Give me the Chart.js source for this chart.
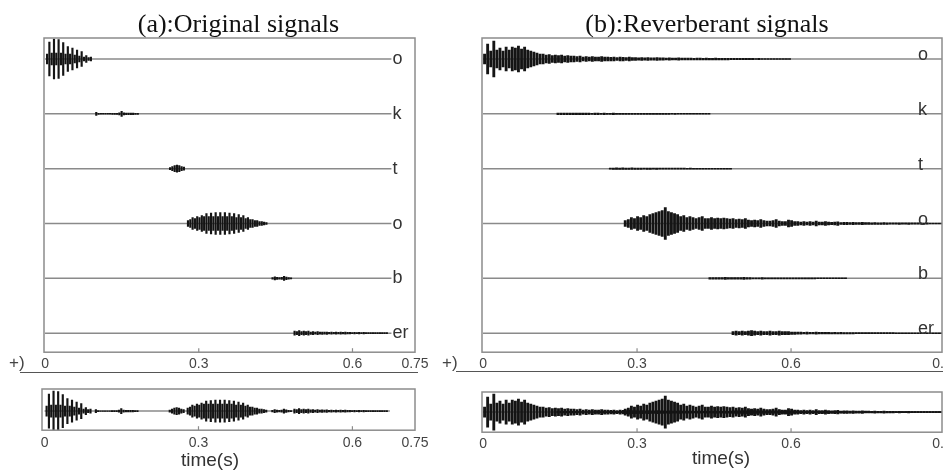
<!DOCTYPE html>
<html><head><meta charset="utf-8">
<script src="https://cdn.jsdelivr.net/npm/chart.js@4.4.1/dist/chart.umd.min.js"></script>
<style>
html,body{margin:0;padding:0;width:943px;height:470px;overflow:hidden;background:#fff;}
canvas{position:absolute;}
.txt{position:absolute;white-space:nowrap;}
.rule{position:absolute;height:0;border-top:1.5px solid #555;}
</style></head><body>
<canvas id="cA" width="480" height="376" style="left:0;top:0"></canvas>
<canvas id="cB" width="530" height="376" style="left:470px;top:0"></canvas>
<canvas id="cC" width="480" height="76" style="left:0;top:380px"></canvas>
<canvas id="cD" width="530" height="73" style="left:470px;top:383px"></canvas>
<div class="txt" style="left:0;width:477px;top:9px;text-align:center;font:26px/30px 'Liberation Serif','Times New Roman',serif;color:#111">(a):Original signals</div>
<div class="txt" style="left:470px;width:474px;top:9px;text-align:center;font:26px/30px 'Liberation Serif','Times New Roman',serif;color:#111">(b):Reverberant signals</div>
<div class="txt" style="left:150px;width:120px;top:449px;text-align:center;font:19px/22px 'Liberation Sans',Arial,sans-serif;color:#333">time(s)</div>
<div class="txt" style="left:661px;width:120px;top:447px;text-align:center;font:19px/22px 'Liberation Sans',Arial,sans-serif;color:#333">time(s)</div>
<div class="txt" style="left:9px;top:353px;font:17px/19px 'Liberation Sans',Arial,sans-serif;color:#444">+)</div>
<div class="txt" style="left:442px;top:353px;font:17px/19px 'Liberation Sans',Arial,sans-serif;color:#444">+)</div>
<div class="rule" style="left:20px;top:372px;width:398px"></div>
<div class="rule" style="left:456px;top:371px;width:487px"></div>
<script>
// ---------- data ----------
const rowLabels = ['o','k','t','o','b','er'];

// (a) original signals: envelope amplitudes sampled every origDt seconds
const origDt = 0.0045;
const origStart = [0.004, 0.1, 0.244, 0.279, 0.444, 0.487];
const origO1 = [5,17,6,20,6,19.5,6,16.5,5,12.5,5,11,4,9,3,7.5,2,3.5,1.5,2];
const origK  = [1.5,0.5,0.4,0.4,0.4,0.4,0.4,0.5,0.5,0.6,1,2.5,1,0.8,0.8,0.8,0.7,0.6,0.5];
const origT  = [1,2,3,3.5,3,2,1.5];
const origO2 = [3,4,6,5,7,6,8,7,10,7,10.5,7,11,7,11,7,11,7,10.5,7,10,6,9,6,8,5,6,4,4,3,3,2,2,1.5,1];
const origB  = [0.8,1.5,1,0.8,1,2,1.2,0.8,0.5];
const origEr = [2,1.5,2.5,1.5,2,1.5,2,1.2,1.5,1,1.5,1,1.2,1,1.2,0.8,1,0.8,1,0.8,1,0.8,1,0.8,0.8,0.6,0.8,0.6,0.8,0.6,0.8,0.6,0.6,0.5,0.6,0.5,0.6,0.5,0.5,0.5,0.5];
const origTraces = [origO1, origK, origT, origO2, origB, origEr];
const origEnd = 0.676;

// (b) reverberant signals
const revDt = 0.006;
const revStart = [0.003, 0.146, 0.248, 0.277, 0.442, 0.487];
const revO1 = [5,15,8,18,9,11,8,12,9,12,11,13,10,12,9,8,7,6,5,5,
  4,4.5,3.5,4,3.5,4,3,3.5,3,3,2.5,3,2,2.5,2,2.5,2,2,2.5,2,
  2,1.8,2,1.5,2,1.8,1.5,2,1.5,1.5,1.2,1.5,1.2,1.5,1.2,1.2,1.5,1.2,1.2,1,
  1.2,1,1,1.2,1,1,1,1,0.8,1,1,0.8,1,0.8,0.8,1,0.8,0.8,0.8,0.8,
  0.7,0.6,0.7,0.6,0.6,0.7,0.6,0.6,0.5,0.6,0.5,0.5,0.5,0.5,0.5,0.4,0.4,0.4,0.4,0.4];
const revK = [0.7,0.8,0.7,0.7,0.8,0.7,0.7,0.7,0.8,0.7,0.7,0.6,0.7,0.7,0.6,0.7,0.6,0.6,0.7,0.6,
  0.6,0.6,0.6,0.5,0.6,0.5,0.5,0.6,0.5,0.5,0.45,0.5,0.45,0.45,0.45,0.45,0.45,0.4,0.45,0.4,
  0.4,0.4,0.4,0.4,0.4,0.4,0.4,0.4,0.4,0.4];
const revT = [0.6,0.7,0.8,0.7,0.8,0.7,0.7,0.8,0.7,0.7,0.7,0.6,0.7,0.7,0.6,0.7,0.6,0.6,0.6,0.6,
  0.5,0.6,0.5,0.5,0.5,0.45,0.5,0.45,0.45,0.45,0.45,0.4,0.4,0.4,0.4,0.4,0.4,0.4,0.4,0.4];
const revO2 = [3,4,6,5,7,6,8,7,9,10,11,12,13,16,12,11,10,9,7,8,
  6,7,6,5,6,7,5,5,6,5,5.5,5,5.5,5,4.5,5,4,4.5,4,5,
  3.5,3,3.5,3,4,3,2.5,2.5,3,4,2.5,2,2,3.5,3,2,2,1.5,2,1.5,
  2,1.5,2.5,1.5,1.5,2,1.5,1.2,1.5,1.8,1,1.2,1.2,1,1.2,1,1,1.2,0.9,0.9,
  0.8,1,0.8,0.8,1,0.8,0.7,0.7,0.6,0.8,0.6,0.6,0.8,0.6,0.6,0.6,0.6,0.5,0.6,0.5,
  0.5,0.5,0.5,0.5];
const revB = [0.7,0.7,0.8,0.7,0.7,1,0.7,0.7,0.8,0.7,0.7,1,0.7,0.7,0.6,0.6,0.6,0.7,0.6,0.6,
  0.6,0.5,0.6,0.5,0.5,0.5,0.5,0.45,0.5,0.45,0.45,0.45,0.45,0.45,0.45,0.4,0.4,0.4,0.4,0.4,
  0.4,0.4,0.4,0.4,0.4];
const revEr = [1.5,2,1.5,2,1.5,2,2.5,2,1.5,2,1.5,1.5,2,1.5,1.5,2,1.5,1.5,1.5,1.2,
  1.2,1,1,0.8,1,0.8,0.8,1,0.8,0.8,0.8,0.8,0.7,0.8,0.7,0.8,0.7,0.7,0.7,0.7,
  0.6,0.6,0.6,0.6,0.6,0.6,0.5,0.6,0.5,0.5,0.5,0.5,0.5,0.45,0.45,0.45,0.45,0.45,0.45,0.45,
  0.4,0.4,0.4,0.4,0.4,0.4,0.4,0.4,0.4];
const revTraces = [revO1, revK, revT, revO2, revB, revEr];
const revEnd = 0.894;

// axis ticks
const leftTicks = [0, 0.3, 0.6, 0.722];
const leftTickLabels = ['0','0.3','0.6','0.75'];
const rightTicks = [0, 0.3, 0.6, 0.894];
const rightTickLabels = ['0','0.3','0.6','0.9'];

// ---------- rendering ----------
const ROW_OFFSET = 19, ROW_GAP = 54.8;
const rowBase = i => ROW_OFFSET + ROW_GAP * (5 - i);
const WAVE = '#141414', BASE = '#8a8a8a', FRAME = '#8c8c8c';
const SANS = "'Liberation Sans', Arial, sans-serif";

function bars(start, dt, amps, base, thick){
  return {type:'bar', data: amps.map((a,k)=>({x:start + k*dt, y:[base - a, base + a]})),
    backgroundColor: WAVE, borderWidth:0, barThickness:thick, grouped:false, order:1};
}
function baseline(x1, base){
  return {type:'line', data:[{x:0, y:base},{x:x1, y:base}], borderColor:BASE, borderWidth:1.5,
    pointRadius:0, fill:false, order:2};
}
function framePlugin(ticks, labelMode){
  return {id:'frame'+Math.floor(Math.random()*1e6), afterDatasetsDraw(chart){
    const {ctx, chartArea:a} = chart; const xs = chart.scales.x, ys = chart.scales.y;
    ctx.save();
    ctx.strokeStyle = FRAME; ctx.lineWidth = 1.5;
    ctx.strokeRect(a.left, a.top, a.right - a.left, a.bottom - a.top);
    ctx.lineWidth = 1.2;
    ticks.forEach(v=>{ const px = xs.getPixelForValue(v);
      if (px > a.left + 3 && px < a.right - 3){ ctx.beginPath(); ctx.moveTo(px, a.bottom); ctx.lineTo(px, a.bottom - 4); ctx.stroke(); } });
    if (labelMode){
      ctx.fillStyle = '#333'; ctx.font = '18px ' + SANS; ctx.textAlign = 'left'; ctx.textBaseline = 'alphabetic';
      rowLabels.forEach((lab,i)=>{
        const py = ys.getPixelForValue(rowBase(i));
        if (labelMode === 'left') ctx.fillText(lab, xs.getPixelForValue(origEnd) + 1, py + 5);
        else ctx.fillText(lab, a.right - 24, py + 1);
      });
    }
    ctx.restore();
  }};
}
function xScale(min, max, ticks, labels, pad){
  return {type:'linear', min, max, offset:false, grid:{display:false, drawTicks:false}, border:{display:false},
    afterBuildTicks: ax => { ax.ticks = ticks.map(v=>({value:v})); },
    ticks:{autoSkip:false, maxRotation:0, padding:pad, color:'#444', font:{family:SANS, size:14},
      callback:(v,i)=>labels[i]}};
}
function make(id, datasets, x, ymin, ymax, pad, plugin){
  new Chart(document.getElementById(id), {
    type:'bar', data:{datasets},
    options:{responsive:false, animation:false, events:[],
      layout:{padding:pad},
      scales:{x, y:{type:'linear', min:ymin, max:ymax, display:false}},
      plugins:{legend:{display:false}, tooltip:{enabled:false}}},
    plugins:[plugin]});
}

// (a) top
const dsA = [];
origTraces.forEach((tr,i)=>{ dsA.push(bars(origStart[i], origDt, tr, rowBase(i), 1.5)); dsA.push(baseline(origEnd, rowBase(i))); });
make('cA', dsA, xScale(-0.002, 0.722, leftTicks, leftTickLabels, 3.5), 0, 314, {left:44, right:65, top:38, bottom:0}, framePlugin(leftTicks, 'left'));

// (b) top
const dsB = [];
revTraces.forEach((tr,i)=>{ dsB.push(bars(revStart[i], revDt, tr, rowBase(i), 2.2)); dsB.push(baseline(revEnd, rowBase(i))); });
make('cB', dsB, xScale(-0.002, 0.894, rightTicks, rightTickLabels, 3.5), 0, 314, {left:12, right:58, top:38, bottom:0}, framePlugin(rightTicks, 'right'));

// (a) mixture
const dsC = [baseline(0.673, 0)];
origTraces.forEach((tr,i)=>dsC.push(bars(origStart[i], origDt, tr, 0, 1.5)));
make('cC', dsC, xScale(-0.005, 0.722, leftTicks, leftTickLabels, 4.5), -19, 22, {left:42, right:65, top:9, bottom:0}, framePlugin(leftTicks, null));

// (b) mixture
const dsD = [baseline(revEnd, 0)];
revTraces.forEach((tr,i)=>dsD.push(bars(revStart[i], revDt, tr, 0, 2.2)));
make('cD', dsD, xScale(-0.002, 0.894, rightTicks, rightTickLabels, 3.5), -20, 20, {left:12, right:58, top:9, bottom:0}, framePlugin(rightTicks, null));
</script>
</body></html>
